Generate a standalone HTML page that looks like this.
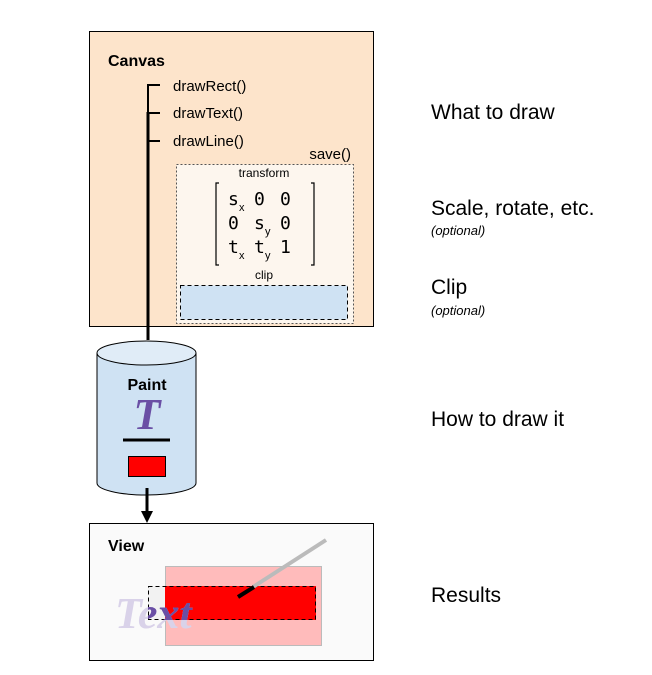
<!DOCTYPE html>
<html><head><meta charset="utf-8"><style>
html,body{margin:0;padding:0;background:#fff;}
svg{display:block;}
</style></head><body>
<svg width="652" height="675" xmlns="http://www.w3.org/2000/svg" font-family="Liberation Sans, sans-serif">
<defs>
<clipPath id="cr"><rect x="148" y="586" width="168" height="34"/></clipPath>
</defs>
<rect x="89.5" y="31.5" width="284" height="295" fill="#fde4cb" stroke="#000" stroke-width="1"/>
<text x="108" y="66" font-size="16" font-weight="bold">Canvas</text>
<text x="173" y="91" font-size="15">drawRect()</text>
<text x="173" y="118" font-size="15">drawText()</text>
<text x="173" y="146" font-size="15">drawLine()</text>
<text x="351" y="159" font-size="15" text-anchor="end">save()</text>
<rect x="176.5" y="164.5" width="177" height="159" fill="#fdf6ee" stroke="#555" stroke-width="1" stroke-dasharray="2,2"/>
<text x="264" y="177" font-size="12" text-anchor="middle">transform</text>
<path d="M219,183 H216 V265 H219 M311,183 H314 V265 H311" fill="none" stroke="#000" stroke-width="1.2"/>
<g font-family="DejaVu Sans Mono, Liberation Mono, monospace" font-size="18">
<text x="228" y="205">s</text><text x="239" y="211" font-size="11" font-family="Liberation Sans">x</text>
<text x="254" y="205">0</text><text x="280" y="205">0</text>
<text x="228" y="229">0</text>
<text x="254" y="229">s</text><text x="265" y="235" font-size="11" font-family="Liberation Sans">y</text>
<text x="280" y="229">0</text>
<text x="228" y="253">t</text><text x="239" y="259" font-size="11" font-family="Liberation Sans">x</text>
<text x="254" y="253">t</text><text x="265" y="259" font-size="11" font-family="Liberation Sans">y</text>
<text x="280" y="253">1</text>
</g>
<text x="264" y="279" font-size="12" text-anchor="middle">clip</text>
<rect x="180.5" y="285.5" width="167" height="34" fill="#cfe2f3" stroke="#000" stroke-width="1" stroke-dasharray="4,3"/>
<path d="M160,85 H148 V113" fill="none" stroke="#000" stroke-width="2"/>
<line x1="148" y1="112" x2="148" y2="340" stroke="#000" stroke-width="3"/>
<path d="M148,113 H160 M148,141 H160" stroke="#000" stroke-width="2"/>
<path d="M97,353 V483 A49.5,12 0 0 0 196,483 V353" fill="#cfe2f3" stroke="#000" stroke-width="1"/>
<ellipse cx="146.5" cy="353" rx="49.5" ry="12" fill="#e0ecf7" stroke="#000" stroke-width="1"/>
<text x="147" y="390" font-size="16" font-weight="bold" text-anchor="middle">Paint</text>
<text x="147" y="429" font-size="44" font-weight="bold" font-style="italic" font-family="Liberation Serif, serif" fill="#6a4fa5" text-anchor="middle">T</text>
<line x1="123" y1="440" x2="170" y2="440" stroke="#000" stroke-width="3"/>
<rect x="128.5" y="456.5" width="37" height="20" fill="#f00" stroke="#000" stroke-width="1"/>
<line x1="147" y1="488" x2="147" y2="512" stroke="#000" stroke-width="3"/>
<path d="M141,511 L153,511 L147,523 Z" fill="#000"/>
<rect x="89.5" y="523.5" width="284" height="137" fill="#fafafa" stroke="#000" stroke-width="1"/>
<text x="108" y="551" font-size="16" font-weight="bold">View</text>
<rect x="165.5" y="566.5" width="156" height="79" fill="#ffbbbb" stroke="#bbb" stroke-width="1"/>
<rect x="148" y="586" width="17" height="34" fill="#f2f2f2"/>
<rect x="165" y="586" width="151" height="34" fill="#ff0000"/>
<rect x="148.5" y="586.5" width="167" height="33" fill="none" stroke="#000" stroke-width="1" stroke-dasharray="4,3"/>
<text x="115" y="628" font-size="44" font-weight="bold" font-style="italic" font-family="Liberation Serif, serif" fill="#d9d2e9">Text</text>
<text x="115" y="628" font-size="44" font-weight="bold" font-style="italic" font-family="Liberation Serif, serif" fill="#6a4fa5" clip-path="url(#cr)">Text</text>
<line x1="253" y1="587" x2="326" y2="540" stroke="#bbb" stroke-width="4"/>
<line x1="238" y1="597" x2="254" y2="587" stroke="#000" stroke-width="4"/>
<g font-size="21">
<text x="431" y="119">What to draw</text>
<text x="431" y="215">Scale, rotate, etc.</text>
<text x="431" y="294">Clip</text>
<text x="431" y="426">How to draw it</text>
<text x="431" y="602">Results</text>
</g>
<text x="431" y="235" font-size="13" font-style="italic">(optional)</text>
<text x="431" y="315" font-size="13" font-style="italic">(optional)</text>
</svg>
</body></html>
